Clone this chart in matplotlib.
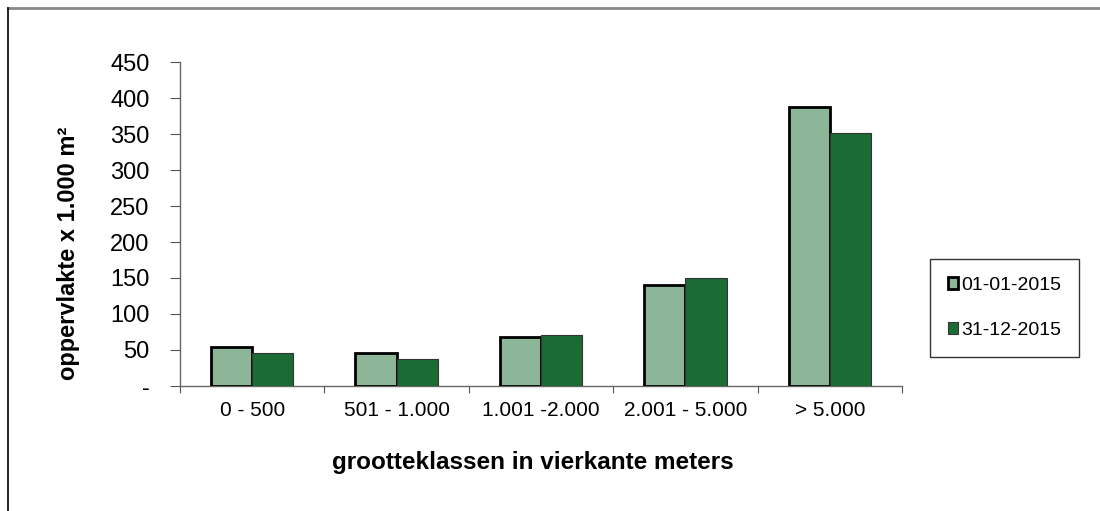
import matplotlib.pyplot as plt
import numpy as np
from matplotlib.lines import Line2D

# surface per size class, x 1.000 m2
categories = ['0 - 500', '501 - 1.000', '1.001 -2.000', '2.001 - 5.000', '> 5.000']
start_2015 = [54, 46, 68, 140, 387]
end_2015 = [46, 37, 71, 150, 352]
series_labels = ['01-01-2015', '31-12-2015']
yticks = [0, 50, 100, 150, 200, 250, 300, 350, 400, 450]
ytick_labels = ['-'] + [str(v) for v in yticks[1:]]

light_green = '#8db598'
dark_green = '#1b6b35'

plt.rc('font', family='Liberation Sans', size=12)

fig = plt.figure(figsize=(11, 5.11), dpi=100)
ax = fig.add_axes([180 / 1100, 1 - 386 / 511, 722 / 1100, 324 / 511])

x = np.arange(len(categories))
w = 0.285
ax.bar(x - w / 2, start_2015, w, color=light_green, edgecolor='black',
       linewidth=2, label=series_labels[0], zorder=3)
ax.bar(x + w / 2, end_2015, w, color=dark_green, edgecolor='#333333',
       linewidth=0.8, label=series_labels[1], zorder=3)

ax.set_xlim(-0.5, len(categories) - 0.5)
ax.set_ylim(0, 450)
ax.set_yticks(yticks)
ax.set_yticklabels(ytick_labels, fontsize=17)
ax.set_xticks(np.arange(len(categories) + 1) - 0.5)
ax.set_xticklabels([])
ax.set_xticks(x, minor=True)
ax.set_xticklabels(categories, minor=True, fontsize=15)
ax.tick_params(axis='x', which='minor', length=0, pad=11)
ax.tick_params(axis='x', which='major', length=5, color='#555555', direction='out')
ax.tick_params(axis='y', length=7, color='#555555', pad=15)

for side in ['top', 'right']:
    ax.spines[side].set_visible(False)
for side in ['left', 'bottom']:
    ax.spines[side].set_color('#666666')
    ax.spines[side].set_linewidth(1)

# axis titles sit a bit off-centre in the original layout
ax.text(-0.155, 0.41, 'oppervlakte x 1.000 m²', transform=ax.transAxes,
        rotation=90, ha='center', va='center', fontsize=17, fontweight='bold')
ax.text(0.488, -0.235, 'grootteklassen in vierkante meters', transform=ax.transAxes,
        ha='center', va='center', fontsize=17.5, fontweight='bold')

leg = ax.legend(loc='center left', bbox_to_anchor=(930 / 1100, 1 - 308 / 511),
                bbox_transform=fig.transFigure, frameon=True, fancybox=False,
                handlelength=0.55, handleheight=0.55, handletextpad=0.15,
                labelspacing=1.45, borderpad=0.9, fontsize=14, borderaxespad=0)
leg.get_frame().set_edgecolor('black')
leg.get_frame().set_linewidth(1)

# outer chart frame
fig.add_artist(Line2D([8 / 1100, 1], [1 - 8 / 511, 1 - 8 / 511], color='#888888',
                      linewidth=2, transform=fig.transFigure))
fig.add_artist(Line2D([8 / 1100, 8 / 1100], [0, 1 - 8 / 511], color='black',
                      linewidth=1.2, transform=fig.transFigure))

fig.savefig('out.png', dpi=100)
